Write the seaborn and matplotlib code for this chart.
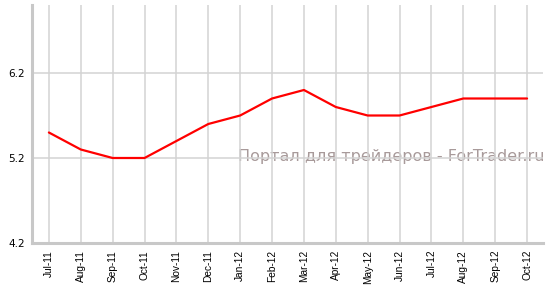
import matplotlib
matplotlib.use("Agg")
import matplotlib.pyplot as plt
import seaborn as sns
import pandas as pd

months = ["Jul-11", "Aug-11", "Sep-11", "Oct-11", "Nov-11", "Dec-11", "Jan-12", "Feb-12",
          "Mar-12", "Apr-12", "May-12", "Jun-12", "Jul-12", "Aug-12", "Sep-12", "Oct-12"]
values = [5.5, 5.3, 5.2, 5.2, 5.4, 5.6, 5.7, 5.9, 6.0, 5.8, 5.7, 5.7, 5.8, 5.9, 5.9, 5.9]
y_ticks = [4.2, 5.2, 6.2]
watermark = "Портал для трейдеров - ForTrader.ru"

sns.set_style("white")
plt.rcParams['font.family'] = ['DejaVu Sans']

df = pd.DataFrame({"month": months, "value": values})

fig = plt.figure(figsize=(5.53, 2.9), dpi=100)
ax = fig.add_axes([32/553, 47/290, (543-32)/553, (243-5)/290])

sns.lineplot(data=df, x="month", y="value", ax=ax, color="#ff0000", linewidth=1.6, sort=False, zorder=3)

ax.set_xlim(-0.53, 15.5)
ax.set_ylim(4.2, 7.0)
ax.set_yticks(y_ticks)
ax.set_yticklabels([f"{v:.1f}" for v in y_ticks], fontsize=7.5, color="#000000")
ax.set_xticks(range(len(months)))
ax.set_xticklabels(months, rotation=90, fontsize=7.3, family="Liberation Sans", color="#000000")
ax.set_xlabel("")
ax.set_ylabel("")

ax.grid(True, color="#d3d3d3", linewidth=1.1)
ax.set_axisbelow(True)

for s in ["top", "right"]:
    ax.spines[s].set_visible(False)
for s in ["left", "bottom"]:
    ax.spines[s].set_color("#c8c8c8")
    ax.spines[s].set_linewidth(2.2)

ax.tick_params(axis="x", length=3, width=1, color="#c8c8c8", pad=2)
ax.tick_params(axis="y", length=3, width=1, color="#c8c8c8", pad=2)

ax.text(545/553, 1 - 156.5/290, watermark, transform=fig.transFigure, ha="right", va="center",
        fontsize=11.5, color="#a89a9a", zorder=0.2)

fig.savefig("out.png", dpi=100)
